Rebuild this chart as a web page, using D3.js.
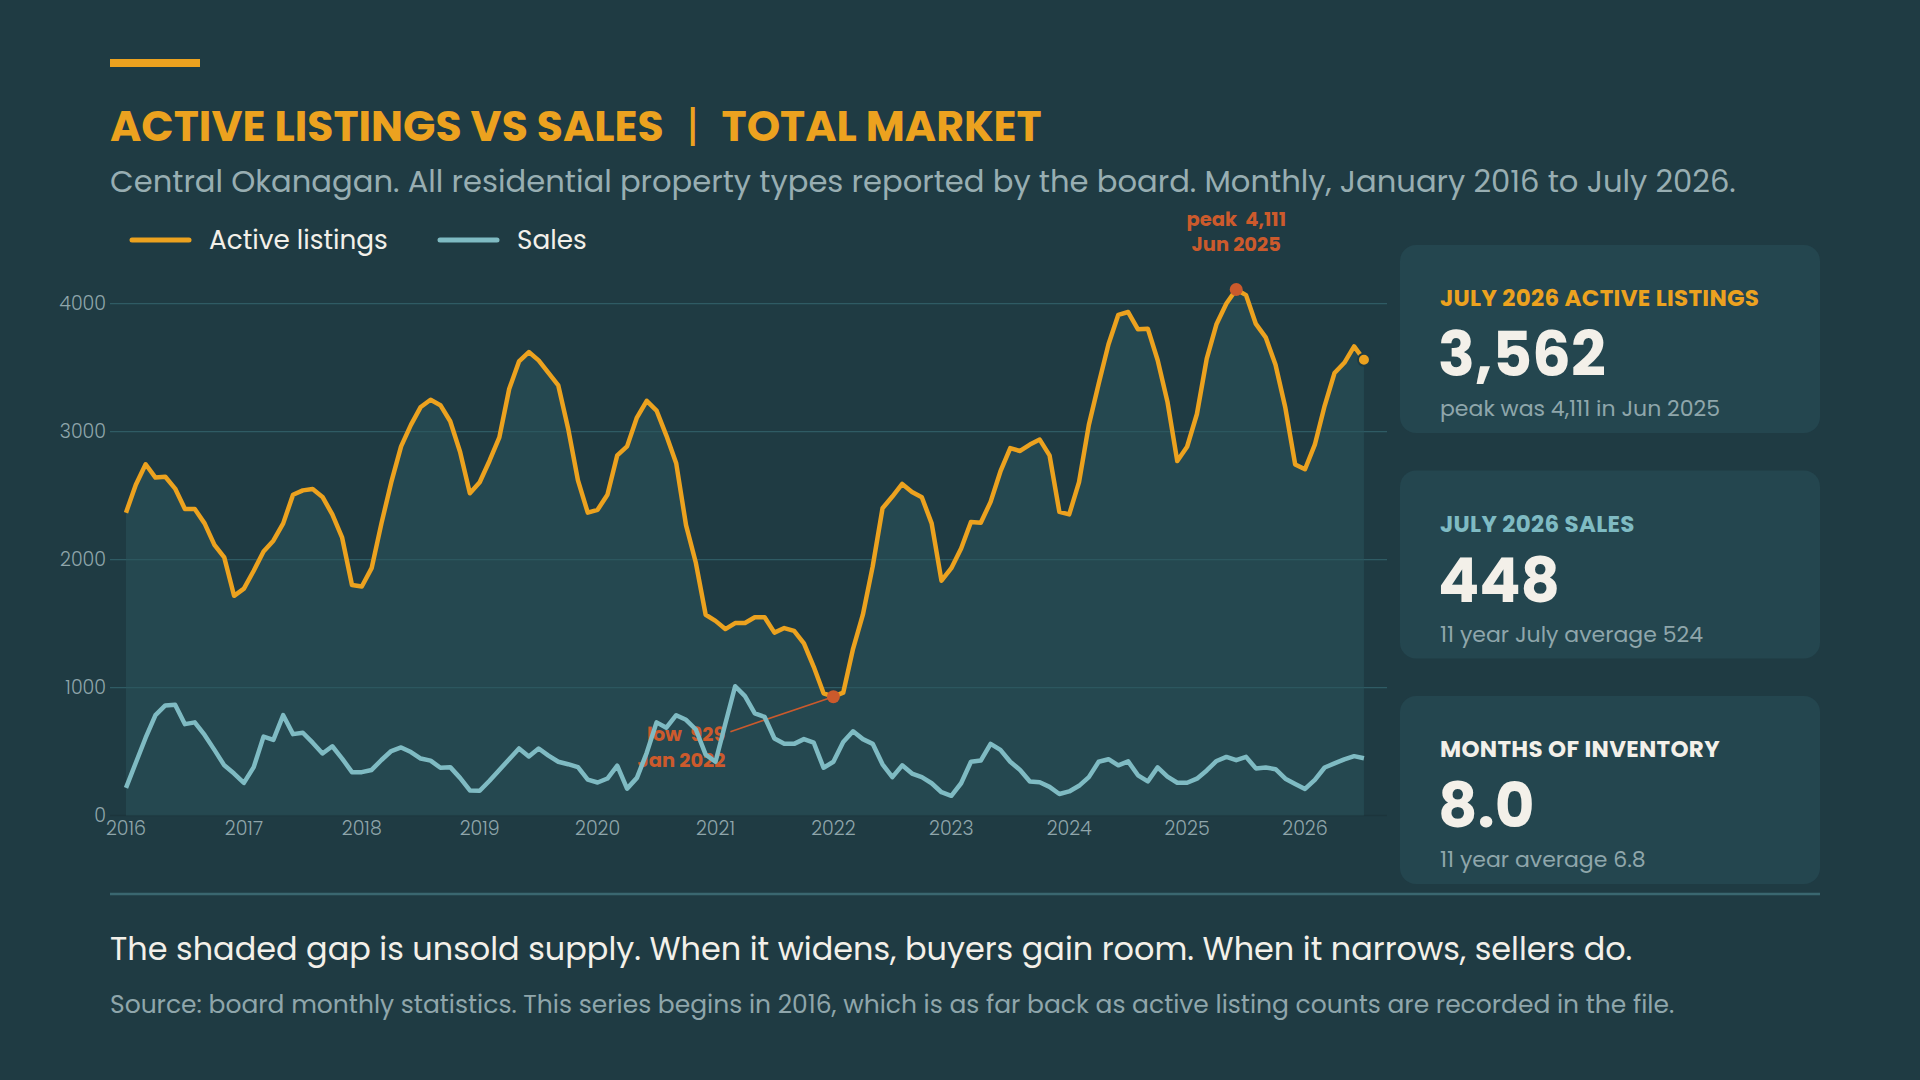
<!DOCTYPE html>
<html>
<head>
<meta charset="utf-8">
<script src="https://cdn.jsdelivr.net/npm/d3@7"></script>
<style>
    html, body { margin: 0; padding: 0; background: #1f3b43; }
    svg { display: block; font-family: Poppins, Inter, "Open Sans", sans-serif; }
</style>
</head>
<body>
<svg id="chart" width="1920" height="1080"></svg>
<script>
// monthly values, Jan 2016 .. Jul 2026
const years = [2016, 2017, 2018, 2019, 2020, 2021, 2022, 2023, 2024, 2025, 2026];
const monthNames = ["Jan", "Feb", "Mar", "Apr", "May", "Jun", "Jul", "Aug", "Sep", "Oct", "Nov", "Dec"];

const listings = [
    2367, 2585, 2745, 2641, 2647, 2555, 2395, 2395, 2283, 2115, 2017, 1717,
    1773, 1913, 2064, 2148, 2283, 2507, 2541, 2552, 2490, 2353, 2171, 1801,
    1790, 1933, 2283, 2605, 2885, 3053, 3193, 3249, 3207, 3081, 2843, 2518,
    2605, 2773, 2955, 3333, 3549, 3622, 3557, 3459, 3361, 3025, 2619, 2367,
    2389, 2507, 2815, 2885, 3110, 3241, 3165, 2969, 2753, 2269, 1975, 1569,
    1521, 1457, 1504, 1504, 1549, 1549, 1429, 1465, 1443, 1345, 1162, 955,
    929, 960, 1303, 1569, 1947, 2401, 2493, 2591, 2529, 2487, 2283, 1835,
    1933, 2087, 2294, 2288, 2451, 2689, 2871, 2849, 2899, 2938, 2815, 2373,
    2353, 2605, 3053, 3375, 3683, 3913, 3935, 3800, 3805, 3560, 3234, 2770,
    2882, 3138, 3570, 3842, 4002, 4111, 4067, 3842, 3737, 3522, 3186, 2744,
    2706, 2898, 3202, 3458, 3538, 3666, 3562
];

const sales = [
    216, 412, 608, 784, 860, 866, 714, 728, 630, 513, 392, 328,
    255, 378, 616, 591, 784, 636, 647, 569, 485, 541, 445, 339,
    339, 356, 434, 504, 532, 496, 445, 429, 373, 378, 294, 196,
    193, 272, 356, 440, 524, 462, 524, 468, 420, 401, 378, 280,
    258, 289, 389, 210, 294, 490, 728, 686, 784, 748, 672, 476,
    420, 717, 1010, 933, 798, 770, 602, 560, 560, 597, 569, 373,
    420, 574, 658, 597, 560, 400, 300, 392, 328, 300, 252, 182,
    154, 252, 420, 429, 560, 513, 420, 356, 266, 260, 224, 168,
    188, 232, 300, 420, 440, 392, 423, 314, 266, 376, 304, 256,
    256, 288, 352, 426, 458, 432, 458, 368, 375, 362, 288, 247,
    208, 279, 375, 407, 439, 464, 448
];

const yTicks = [0, 1000, 2000, 3000, 4000];

const cardLabels = ["JULY 2026 ACTIVE LISTINGS", "JULY 2026 SALES", "MONTHS OF INVENTORY"];
const cardValues = ["3,562", "448", "8.0"];
const cardNotes = ["peak was 4,111 in Jun 2025", "11 year July average 524", "11 year average 6.8"];

const titleText = "ACTIVE LISTINGS VS SALES";
const titleText2 = "TOTAL MARKET";
const subtitleText = "Central Okanagan. All residential property types reported by the board. Monthly, January 2016 to July 2026.";
const takeaway = "The shaded gap is unsold supply. When it widens, buyers gain room. When it narrows, sellers do.";
const sourceText = "Source: board monthly statistics. This series begins in 2016, which is as far back as active listing counts are recorded in the file.";

const orange = "#eca21f",
    teal = "#7fbbc3",
    accent = "#cc5a2c",
    ink = "#f3f0e9",
    muted = "#8fa6ab";

const svg = d3.select("#chart");

function fit(sel, target) {
    const fs = parseFloat(sel.attr("font-size"));
    const len = sel.node().getComputedTextLength();
    sel.attr("font-size", (fs * target / len).toFixed(2));
}

// header
svg.append("rect").attr("x", 110).attr("y", 59).attr("width", 90).attr("height", 8).attr("fill", orange);

const title = svg.append("text")
    .attr("x", 110).attr("y", 141)
    .attr("font-size", 44).attr("font-weight", 700)
    .attr("fill", orange)
    .attr("xml:space", "preserve");
title.append("tspan").text(titleText);
title.append("tspan").attr("font-weight", 400).text("  |  ");
title.append("tspan").text(titleText2);
fit(title, 932);

const sub = svg.append("text")
    .attr("x", 110).attr("y", 192)
    .attr("font-size", 28).attr("font-weight", 400)
    .attr("fill", "#98aeb2")
    .text(subtitleText);
fit(sub, 1626);

// legend
const legend = [
    { name: "Active listings", color: orange, x: 132 },
    { name: "Sales", color: teal, x: 440 }
];
legend.forEach(d => {
    svg.append("line")
        .attr("x1", d.x).attr("x2", d.x + 57)
        .attr("y1", 240).attr("y2", 240)
        .attr("stroke", d.color).attr("stroke-width", 5)
        .attr("stroke-linecap", "round");
    svg.append("text")
        .attr("x", d.x + 77).attr("y", 249)
        .attr("font-size", 26.3).attr("fill", ink)
        .text(d.name);
});

// scales
const x = d3.scaleLinear().domain([0, 120]).range([126, 1305]);
const y = d3.scaleLinear().domain([0, 4000]).range([815.5, 303.7]);

const grid = svg.append("g");
grid.selectAll("line")
    .data(yTicks)
    .join("line")
    .attr("x1", 110).attr("x2", 1387)
    .attr("y1", d => y(d)).attr("y2", d => y(d))
    .attr("stroke", d => d === 0 ? "#1c353c" : "#2f5b64")
    .attr("stroke-width", d => d === 0 ? 1.5 : 1.2);

grid.selectAll("text")
    .data(yTicks)
    .join("text")
    .attr("x", 106).attr("y", d => y(d))
    .attr("dy", "0.35em")
    .attr("text-anchor", "end")
    .attr("font-size", 19).attr("font-weight", 300)
    .attr("fill", muted)
    .text(d => d);

const xAxis = svg.append("g");
xAxis.selectAll("text")
    .data(years)
    .join("text")
    .attr("x", (d, i) => x(i * 12))
    .attr("y", 835)
    .attr("text-anchor", "middle")
    .attr("font-size", 19).attr("font-weight", 300)
    .attr("fill", muted)
    .text(d => d);

// shaded supply
const area = d3.area()
    .x((d, i) => x(i))
    .y0(y(0))
    .y1(d => y(d));

svg.append("path")
    .datum(listings)
    .attr("d", area)
    .attr("fill", "#2a535b")
    .attr("fill-opacity", 0.55);

// annotations, drawn under the lines
const lowI = d3.minIndex(listings);
const peakI = d3.maxIndex(listings);
const monthLabel = i => monthNames[i % 12] + " " + years[Math.floor(i / 12)];

const lx = x(lowI), ly = y(listings[lowI]);
svg.append("line")
    .attr("x1", lx - 103).attr("y1", ly + 35)
    .attr("x2", lx).attr("y2", ly)
    .attr("stroke", accent).attr("stroke-width", 1.6);
svg.append("text")
    .attr("x", lx - 108).attr("y", ly + 44)
    .attr("text-anchor", "end")
    .attr("font-size", 19.5).attr("font-weight", 700).attr("fill", accent)
    .attr("xml:space", "preserve")
    .text("low  " + d3.format(",")(listings[lowI]));
svg.append("text")
    .attr("x", lx - 108).attr("y", ly + 70)
    .attr("text-anchor", "end")
    .attr("font-size", 19.5).attr("font-weight", 700).attr("fill", accent)
    .text(monthLabel(lowI));

const px = x(peakI), py = y(listings[peakI]);
svg.append("text")
    .attr("x", px).attr("y", py - 63)
    .attr("text-anchor", "middle")
    .attr("font-size", 19.5).attr("font-weight", 700).attr("fill", accent)
    .attr("xml:space", "preserve")
    .text("peak  " + d3.format(",")(listings[peakI]));
svg.append("text")
    .attr("x", px).attr("y", py - 38)
    .attr("text-anchor", "middle")
    .attr("font-size", 19.5).attr("font-weight", 700).attr("fill", accent)
    .text(monthLabel(peakI));

// lines
const line = d3.line()
    .x((d, i) => x(i))
    .y(d => y(d));

svg.append("path")
    .datum(sales)
    .attr("d", line)
    .attr("fill", "none")
    .attr("stroke", teal).attr("stroke-width", 4.5)
    .attr("stroke-linejoin", "round");

svg.append("path")
    .datum(listings)
    .attr("d", line)
    .attr("fill", "none")
    .attr("stroke", orange).attr("stroke-width", 4.5)
    .attr("stroke-linejoin", "round");

svg.append("circle").attr("cx", lx).attr("cy", ly).attr("r", 6.5).attr("fill", accent);
svg.append("circle").attr("cx", px).attr("cy", py).attr("r", 6.5).attr("fill", accent);

const last = listings.length - 1;
svg.append("circle")
    .attr("cx", x(last)).attr("cy", y(listings[last]))
    .attr("r", 6).attr("fill", orange)
    .attr("stroke", "#1f3b43").attr("stroke-width", 2);

// stat cards
const cardColors = [orange, teal, ink];
cardLabels.forEach((label, i) => {
    const top = 245 + i * 225.5;
    const g = svg.append("g").attr("transform", `translate(1400,${top})`);
    g.append("rect")
        .attr("width", 420).attr("height", 188)
        .attr("rx", 16)
        .attr("fill", "#24464f");
    g.append("text")
        .attr("x", 40).attr("y", 61)
        .attr("font-size", 23).attr("font-weight", 700)
        .attr("letter-spacing", 0.3)
        .attr("fill", cardColors[i])
        .text(label);
    g.append("text")
        .attr("x", 38).attr("y", 131)
        .attr("font-size", 61).attr("font-weight", 700)
        .attr("fill", ink)
        .text(cardValues[i]);
    g.append("text")
        .attr("x", 40).attr("y", 171)
        .attr("font-size", 22).attr("font-weight", 400)
        .attr("fill", muted)
        .text(cardNotes[i]);
});

// footer
svg.append("line")
    .attr("x1", 110).attr("x2", 1820)
    .attr("y1", 894).attr("y2", 894)
    .attr("stroke", "#3a6770").attr("stroke-width", 2.5);

const take = svg.append("text")
    .attr("x", 110).attr("y", 960)
    .attr("font-size", 30).attr("fill", ink)
    .text(takeaway);
fit(take, 1523);

const src = svg.append("text")
    .attr("x", 110).attr("y", 1013)
    .attr("font-size", 24).attr("font-weight", 400)
    .attr("fill", muted)
    .text(sourceText);
fit(src, 1564);
</script>
</body>
</html>
